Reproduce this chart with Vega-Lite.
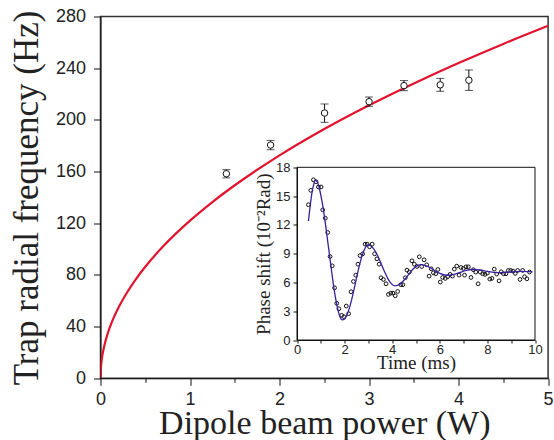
{
  "$schema": "https://vega.github.io/schema/vega-lite/v6.json",
  "width": 447.6,
  "height": 361.8,
  "autosize": {"type": "none"},
  "padding": {"left": 100.5, "top": 16.5, "right": 5.9, "bottom": 61.7},
  "background": "white",
  "config": {
    "view": {"stroke": "#333333", "strokeWidth": 1.5},
    "axis": {
      "grid": false,
      "domainColor": "#111111",
      "tickColor": "#111111",
      "labelFont": "Liberation Sans",
      "labelColor": "#222222",
      "titleFont": "Liberation Serif",
      "titleFontWeight": "normal",
      "titleColor": "#222222"
    }
  },
  "datasets": {
    "curve": [
      {"x": 0, "y": 0}, {"x": 0.005, "y": 8.6}, {"x": 0.01, "y": 12.2}, {"x": 0.02, "y": 17.3},
      {"x": 0.035, "y": 22.8}, {"x": 0.05, "y": 27.3}, {"x": 0.075, "y": 33.4}, {"x": 0.1, "y": 38.6},
      {"x": 0.15, "y": 47.3}, {"x": 0.2, "y": 54.6}, {"x": 0.3, "y": 66.8}, {"x": 0.4, "y": 77.2},
      {"x": 0.5, "y": 86.3}, {"x": 0.7, "y": 102.1}, {"x": 1.0, "y": 122.0}, {"x": 1.25, "y": 136.4},
      {"x": 1.5, "y": 149.4}, {"x": 2.0, "y": 172.5}, {"x": 2.5, "y": 192.9}, {"x": 3.0, "y": 211.3},
      {"x": 3.5, "y": 228.2}, {"x": 4.0, "y": 244.0}, {"x": 4.5, "y": 258.8}, {"x": 5.0, "y": 272.8}
    ],
    "meas": [
      {"x": 1.406, "y": 158.3, "lo": 155.1, "hi": 161.5},
      {"x": 1.90, "y": 180.5, "lo": 176.9, "hi": 184.1},
      {"x": 2.503, "y": 205.3, "lo": 198.1, "hi": 212.3},
      {"x": 3.0, "y": 214.1, "lo": 210.5, "hi": 217.7},
      {"x": 3.39, "y": 226.5, "lo": 222.6, "hi": 230.4},
      {"x": 3.795, "y": 227.1, "lo": 222.1, "hi": 232.1},
      {"x": 4.115, "y": 230.7, "lo": 222.8, "hi": 238.6}
    ],
    "frame": [{"t": 0, "t2": 10, "v": 0, "v2": 18}],
    "phase": [
      {"t": 0.48, "v": 14.1}, {"t": 0.58, "v": 15.6}, {"t": 0.69, "v": 16.7}, {"t": 0.80, "v": 16.5},
      {"t": 0.90, "v": 15.95}, {"t": 1.01, "v": 15.95}, {"t": 1.08, "v": 13.56}, {"t": 1.19, "v": 12.7},
      {"t": 1.29, "v": 11.2}, {"t": 1.39, "v": 8.7}, {"t": 1.48, "v": 7.73}, {"t": 1.58, "v": 5.44},
      {"t": 1.67, "v": 3.82}, {"t": 1.76, "v": 3.26}, {"t": 1.88, "v": 2.57}, {"t": 1.97, "v": 2.43},
      {"t": 2.07, "v": 3.54}, {"t": 2.17, "v": 2.74}, {"t": 2.27, "v": 5.03}, {"t": 2.37, "v": 6.1},
      {"t": 2.47, "v": 6.76}, {"t": 2.56, "v": 7.9}, {"t": 2.65, "v": 8.8}, {"t": 2.76, "v": 8.98},
      {"t": 2.86, "v": 9.99}, {"t": 2.95, "v": 9.99}, {"t": 3.05, "v": 9.71}, {"t": 3.16, "v": 9.99},
      {"t": 3.26, "v": 8.98}, {"t": 3.36, "v": 8.46}, {"t": 3.45, "v": 7.9}, {"t": 3.53, "v": 6.49},
      {"t": 3.63, "v": 6.31}, {"t": 3.74, "v": 5.86}, {"t": 3.84, "v": 4.75}, {"t": 3.94, "v": 4.89},
      {"t": 4.03, "v": 4.89}, {"t": 4.13, "v": 4.61}, {"t": 4.23, "v": 5.06}, {"t": 4.36, "v": 5.76},
      {"t": 4.45, "v": 5.76}, {"t": 4.55, "v": 6.49}, {"t": 4.62, "v": 7.28}, {"t": 4.72, "v": 7.08},
      {"t": 4.83, "v": 8.25}, {"t": 4.93, "v": 7.9}, {"t": 5.04, "v": 7.66}, {"t": 5.14, "v": 8.67},
      {"t": 5.24, "v": 7.66}, {"t": 5.34, "v": 8.36}, {"t": 5.45, "v": 7.84}, {"t": 5.55, "v": 6.66},
      {"t": 5.64, "v": 7.42}, {"t": 5.73, "v": 7.0}, {"t": 5.83, "v": 6.9}, {"t": 5.92, "v": 7.35},
      {"t": 6.02, "v": 6.04}, {"t": 6.12, "v": 6.52}, {"t": 6.23, "v": 6.42}, {"t": 6.33, "v": 6.59},
      {"t": 6.43, "v": 6.84}, {"t": 6.53, "v": 6.66}, {"t": 6.61, "v": 7.39}, {"t": 6.71, "v": 7.7},
      {"t": 6.81, "v": 6.76}, {"t": 6.89, "v": 7.56}, {"t": 6.99, "v": 7.46}, {"t": 7.04, "v": 6.76},
      {"t": 7.10, "v": 7.63}, {"t": 7.20, "v": 7.63}, {"t": 7.31, "v": 6.52}, {"t": 7.41, "v": 7.32},
      {"t": 7.51, "v": 7.08}, {"t": 7.61, "v": 5.86}, {"t": 7.70, "v": 7.08}, {"t": 7.80, "v": 6.9},
      {"t": 7.90, "v": 6.84}, {"t": 8.00, "v": 6.97}, {"t": 8.10, "v": 6.35}, {"t": 8.19, "v": 6.42},
      {"t": 8.29, "v": 7.39}, {"t": 8.39, "v": 6.87}, {"t": 8.49, "v": 6.17}, {"t": 8.58, "v": 7.11},
      {"t": 8.68, "v": 6.9}, {"t": 8.78, "v": 6.9}, {"t": 8.88, "v": 7.25}, {"t": 8.98, "v": 7.25},
      {"t": 9.08, "v": 7.18}, {"t": 9.17, "v": 6.94}, {"t": 9.27, "v": 7.25}, {"t": 9.37, "v": 6.31},
      {"t": 9.48, "v": 7.25}, {"t": 9.56, "v": 6.59}, {"t": 9.66, "v": 6.38}, {"t": 9.77, "v": 7.08}
    ],
    "fit": [
      {"t": 0.48, "v": 12.4}, {"t": 0.55, "v": 13.9}, {"t": 0.62, "v": 15.2}, {"t": 0.70, "v": 16.2},
      {"t": 0.77, "v": 16.65}, {"t": 0.85, "v": 16.5}, {"t": 0.92, "v": 16.0}, {"t": 1.0, "v": 15.1},
      {"t": 1.1, "v": 13.75}, {"t": 1.2, "v": 12.0}, {"t": 1.3, "v": 10.1}, {"t": 1.4, "v": 8.2},
      {"t": 1.5, "v": 6.3}, {"t": 1.6, "v": 4.65}, {"t": 1.7, "v": 3.35}, {"t": 1.8, "v": 2.46},
      {"t": 1.9, "v": 2.1}, {"t": 2.0, "v": 2.2}, {"t": 2.1, "v": 2.62}, {"t": 2.2, "v": 3.32},
      {"t": 2.3, "v": 4.24}, {"t": 2.4, "v": 5.32}, {"t": 2.5, "v": 6.45}, {"t": 2.6, "v": 7.54},
      {"t": 2.7, "v": 8.51}, {"t": 2.8, "v": 9.26}, {"t": 2.9, "v": 9.74}, {"t": 3.0, "v": 9.9},
      {"t": 3.1, "v": 9.82}, {"t": 3.2, "v": 9.58}, {"t": 3.3, "v": 9.2}, {"t": 3.4, "v": 8.72},
      {"t": 3.5, "v": 8.16}, {"t": 3.6, "v": 7.57}, {"t": 3.7, "v": 7.0}, {"t": 3.8, "v": 6.48},
      {"t": 3.9, "v": 6.07}, {"t": 4.0, "v": 5.79}, {"t": 4.13, "v": 5.65}, {"t": 4.3, "v": 5.78},
      {"t": 4.5, "v": 6.24}, {"t": 4.7, "v": 6.86}, {"t": 4.9, "v": 7.45}, {"t": 5.05, "v": 7.72},
      {"t": 5.2, "v": 7.85}, {"t": 5.4, "v": 7.76}, {"t": 5.6, "v": 7.53}, {"t": 5.8, "v": 7.22},
      {"t": 6.0, "v": 6.94}, {"t": 6.3, "v": 6.75}, {"t": 6.6, "v": 6.85}, {"t": 6.9, "v": 7.08},
      {"t": 7.1, "v": 7.25}, {"t": 7.35, "v": 7.35}, {"t": 7.7, "v": 7.3}, {"t": 8.0, "v": 7.15},
      {"t": 8.4, "v": 7.02}, {"t": 8.9, "v": 7.08}, {"t": 9.4, "v": 7.15}, {"t": 9.9, "v": 7.1}
    ]
  },
  "layer": [
    {
      "layer": [
        {
          "data": {"name": "curve"},
          "mark": {"type": "line", "color": "#e3132d", "strokeWidth": 2.2, "interpolate": "monotone", "clip": true},
          "encoding": {
            "x": {
              "field": "x", "type": "quantitative",
              "scale": {"domain": [0, 5], "nice": false, "zero": false},
              "axis": {
                "title": "Dipole beam power (W)",
                "values": [0, 0.5, 1, 1.5, 2, 2.5, 3, 3.5, 4, 4.5, 5],
                "labelExpr": "datum.value % 1 === 0 ? format(datum.value, 'd') : ''",
                "tickSize": {"condition": {"test": "datum.value % 1 === 0", "value": 7}, "value": 4},
                "labelFontSize": 18,
                "labelPadding": 5,
                "labelFlush": false,
                "labelOverlap": false,
                "titleFontSize": 34,
                "titlePadding": -2
              }
            },
            "y": {
              "field": "y", "type": "quantitative",
              "scale": {"domain": [0, 280], "nice": false},
              "axis": {
                "title": "Trap radial frequency (Hz)",
                "values": [0, 20, 40, 60, 80, 100, 120, 140, 160, 180, 200, 220, 240, 260, 280],
                "labelExpr": "datum.value % 40 === 0 ? format(datum.value, 'd') : ''",
                "tickSize": {"condition": {"test": "datum.value % 40 === 0", "value": 7}, "value": 4},
                "labelFontSize": 18,
                "labelPadding": 8,
                "labelFlush": false,
                "labelOverlap": false,
                "titleFontSize": 35,
                "titlePadding": 11
              }
            }
          }
        },
        {
          "data": {"name": "meas"},
          "mark": {"type": "rule", "color": "#111111", "strokeWidth": 1},
          "encoding": {
            "x": {"field": "x", "type": "quantitative", "title": "Dipole beam power (W)"},
            "y": {"field": "lo", "type": "quantitative", "title": "Trap radial frequency (Hz)"},
            "y2": {"field": "hi"}
          }
        },
        {
          "data": {"name": "meas"},
          "mark": {"type": "tick", "orient": "horizontal", "color": "#111111", "size": 8, "thickness": 1},
          "encoding": {
            "x": {"field": "x", "type": "quantitative", "title": "Dipole beam power (W)"},
            "y": {"field": "hi", "type": "quantitative", "title": "Trap radial frequency (Hz)"}
          }
        },
        {
          "data": {"name": "meas"},
          "mark": {"type": "tick", "orient": "horizontal", "color": "#111111", "size": 8, "thickness": 1},
          "encoding": {
            "x": {"field": "x", "type": "quantitative", "title": "Dipole beam power (W)"},
            "y": {"field": "lo", "type": "quantitative", "title": "Trap radial frequency (Hz)"}
          }
        },
        {
          "data": {"name": "meas"},
          "mark": {"type": "point", "shape": "circle", "filled": false, "fill": "white", "fillOpacity": 1, "stroke": "#111111", "strokeWidth": 1, "size": 42, "opacity": 1},
          "encoding": {
            "x": {"field": "x", "type": "quantitative", "title": "Dipole beam power (W)"},
            "y": {"field": "y", "type": "quantitative", "title": "Trap radial frequency (Hz)"}
          }
        },
        {
          "mark": {"type": "rule", "color": "#333333", "strokeWidth": 2.5},
          "encoding": {"x": {"datum": 5, "type": "quantitative"}}
        }
      ]
    },
    {
      "layer": [
        {
          "data": {"name": "frame"},
          "mark": {"type": "rect", "fill": "white", "stroke": "#111111", "strokeWidth": 1},
          "encoding": {
            "x": {
              "field": "t", "type": "quantitative",
              "scale": {"domain": [0, 10], "range": [196.5, 434.5], "nice": false, "zero": false},
              "axis": {
                "title": "Time (ms)",
                "orient": "bottom",
                "offset": -38.3,
                "zindex": 1,
                "values": [0, 1, 2, 3, 4, 5, 6, 7, 8, 9, 10],
                "labelExpr": "datum.value % 2 === 0 ? format(datum.value, 'd') : ''",
                "tickSize": 3,
                "labelFontSize": 13,
                "labelPadding": 0,
                "labelFlush": false,
                "labelOverlap": false,
                "titleFontSize": 19,
                "titlePadding": -3
              }
            },
            "x2": {"field": "t2"},
            "y": {
              "field": "v", "type": "quantitative",
              "scale": {"domain": [0, 18], "range": [323.5, 150.8], "nice": false, "zero": false},
              "axis": {
                "title": "Phase shift (10⁻²Rad)",
                "orient": "left",
                "offset": -196.5,
                "zindex": 1,
                "values": [0, 1.5, 3, 4.5, 6, 7.5, 9, 10.5, 12, 13.5, 15, 16.5, 18],
                "labelExpr": "datum.value % 3 === 0 ? format(datum.value, 'd') : ''",
                "tickSize": {"condition": {"test": "datum.value % 3 === 0", "value": 4}, "value": 2.5},
                "labelFontSize": 13,
                "labelPadding": 3,
                "labelFlush": false,
                "labelOverlap": false,
                "titleFontSize": 19,
                "titlePadding": 2
              }
            },
            "y2": {"field": "v2"}
          }
        },
        {
          "data": {"name": "phase"},
          "mark": {"type": "point", "shape": "circle", "filled": false, "stroke": "#111111", "strokeWidth": 1, "size": 14, "opacity": 1},
          "encoding": {
            "x": {"field": "t", "type": "quantitative", "title": "Time (ms)"},
            "y": {"field": "v", "type": "quantitative", "title": "Phase shift (10⁻²Rad)"}
          }
        },
        {
          "data": {"name": "fit"},
          "mark": {"type": "line", "color": "#3a1f9e", "strokeWidth": 1.3, "interpolate": "monotone"},
          "encoding": {
            "x": {"field": "t", "type": "quantitative", "title": "Time (ms)"},
            "y": {"field": "v", "type": "quantitative", "title": "Phase shift (10⁻²Rad)"}
          }
        }
      ]
    }
  ],
  "resolve": {
    "scale": {"x": "independent", "y": "independent"},
    "axis": {"x": "independent", "y": "independent"}
  }
}
